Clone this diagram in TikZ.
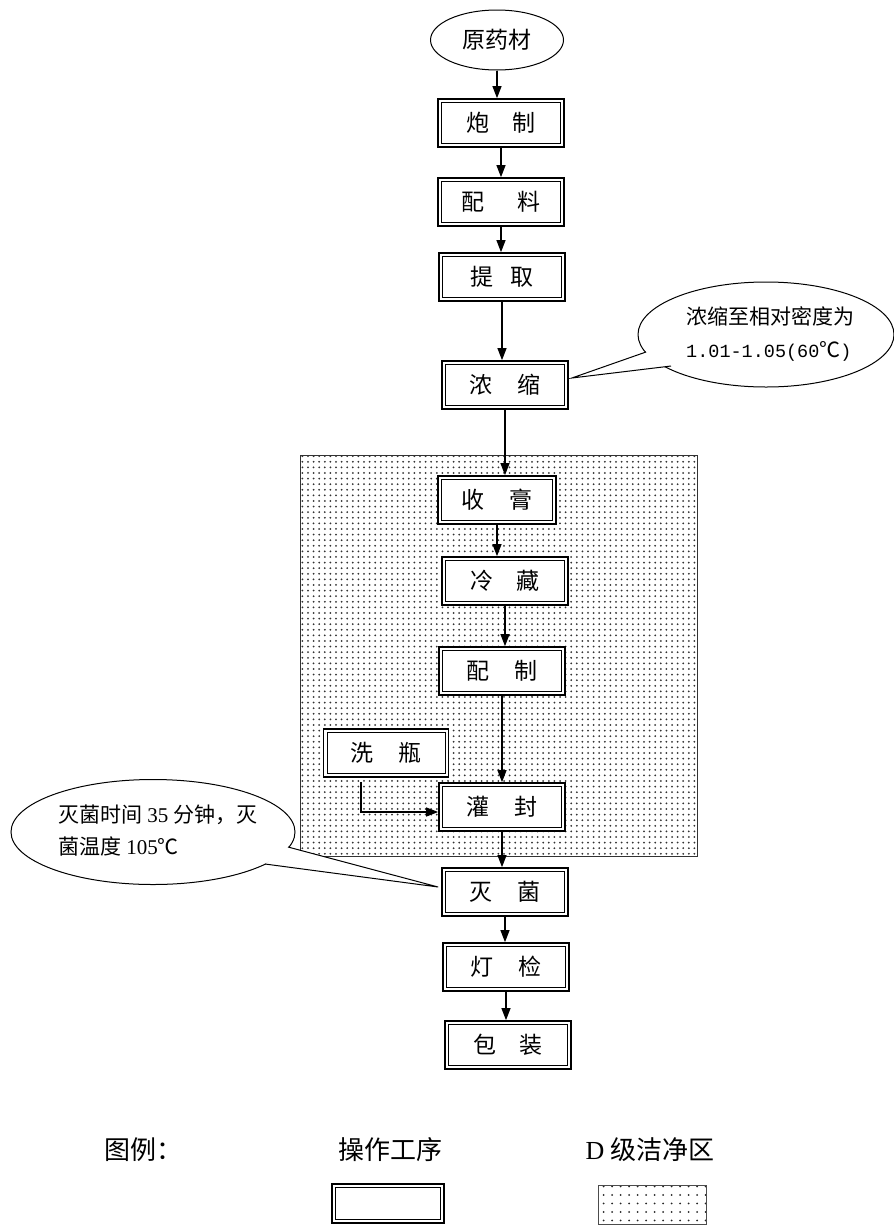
\documentclass[tikz,border=0pt]{standalone}
\usepackage{fontspec}
\setmainfont{Liberation Serif}
\newfontfamily\cjk{Noto Sans CJK SC}
\newfontfamily\monofnt{Liberation Mono}
\usetikzlibrary{arrows.meta,patterns.meta,shapes.geometric}
\tikzset{
  opbox/.style={draw, line width=1.7pt, fill=white, inner sep=0pt,
    minimum width=126pt, minimum height=48pt,
    font=\cjk\fontsize{23}{27}\selectfont,
    path picture={\draw[line width=0.8pt]
      ([shift={(3.6pt,3.6pt)}]path picture bounding box.south west) rectangle
      ([shift={(-3.6pt,-3.6pt)}]path picture bounding box.north east);}},
  arr/.style={line width=1.1pt, -{Triangle[length=12pt,width=9pt]}},
  bubble/.style={draw, fill=white, line width=1pt},
  dzone/.style={pattern={Dots[distance=5.6pt,radius=1pt]}, pattern color=black!80},
  legdots/.style={pattern={Dots[distance=8.5pt,radius=1pt]}, pattern color=black!85},
  zoneline/.style={line width=1pt, draw=black!80},
  bubtext/.style={align=left, anchor=west, inner sep=0pt},
  legtext/.style={inner sep=0pt, font=\cjk\fontsize{26}{30}\selectfont}
}
\begin{document}
\begin{tikzpicture}[x=1pt,y=-1pt]
\fill[white] (0,0) rectangle (894,1229);
\useasboundingbox (0,0) rectangle (894,1229);

% D-class clean zone
\path[dzone] (300,455) rectangle (697,856);
\draw[zoneline] (300,455) rectangle (697,856);

% process nodes
\node[ellipse, draw, line width=1pt, minimum width=133pt, minimum height=60pt, inner sep=0pt,
      font=\cjk\fontsize{23}{27}\selectfont] (yuan) at (497,40) {原药材};
\node[opbox] (paozhi) at (501,123) {炮\hspace{1em}制};
\node[opbox] (peiliao) at (501,202) {配\hspace{1.45em}料};
\node[opbox] (tiqu) at (502,277) {提\hspace{0.75em}取};
\node[opbox] (nongsuo) at (505,385) {浓\hspace{1.05em}缩};
\node[opbox, minimum width=118pt] (shougao) at (497,500) {收\hspace{1.1em}膏};
\node[opbox] (lengcang) at (505,581) {冷\hspace{1em}藏};
\node[opbox] (peizhi) at (502,671) {配\hspace{1.1em}制};
\node[opbox, minimum width=125pt] (xiping) at (386,753) {洗\hspace{1.05em}瓶};
\node[opbox] (guanfeng) at (502,807) {灌\hspace{1.1em}封};
\node[opbox] (miejun) at (505,892) {灭\hspace{1.1em}菌};
\node[opbox] (dengjian) at (506,967) {灯\hspace{1.1em}检};
\node[opbox] (baozhuang) at (508,1045) {包\hspace{1em}装};

% connectors
\draw[arr] (yuan.south) -- (yuan.south |- paozhi.north);
\draw[arr] (paozhi.south) -- (paozhi.south |- peiliao.north);
\draw[arr] (peiliao.south) -- (peiliao.south |- tiqu.north);
\draw[arr] (tiqu.south) -- (tiqu.south |- nongsuo.north);
\draw[arr] (nongsuo.south) -- (nongsuo.south |- shougao.north);
\draw[arr] (shougao.south) -- (shougao.south |- lengcang.north);
\draw[arr] (lengcang.south) -- (lengcang.south |- peizhi.north);
\draw[arr] (peizhi.south) -- (peizhi.south |- guanfeng.north);
\draw[arr] ([xshift=-25pt,yshift=-4pt]xiping.south) |- ([yshift=-5pt]guanfeng.west);
\draw[arr] (guanfeng.south) -- (guanfeng.south |- miejun.north);
\draw[arr] (miejun.south) -- (miejun.south |- dengjian.north);
\draw[arr] (dengjian.south) -- (dengjian.south |- baozhuang.north);

% callout 1
\path[bubble] (766,334.5) ellipse [x radius=128pt, y radius=52.5pt];
\path[bubble] (646,352) -- ([shift={(3pt,7pt)}]nongsuo.east) -- (671,366);
\node[bubtext, font=\cjk\fontsize{21}{33}\selectfont] (c1) at (686,334)
  {浓缩至相对密度为\\{\monofnt\fontsize{18.5}{33}\selectfont 1.01-1.05(60}℃{\monofnt\fontsize{18.5}{33}\selectfont )}};

% callout 2
\path[bubble] (153,832) ellipse [x radius=142pt, y radius=52.5pt];
\path[bubble] (288,847) -- ([shift={(-3pt,5pt)}]miejun.west) -- (265,864);
\node[bubtext, font=\fontsize{21}{32}\selectfont] (c2) at (58,831)
  {{\cjk 灭菌时间} 35 {\cjk 分钟，灭}\\{\cjk 菌温度} 105{\cjk ℃}};

% legend
\node[legtext, anchor=west] (legt) at (104,1150) {图例：};
\node[legtext] (legop) at (390,1150) {操作工序};
\node[legtext] (legd) at (650,1150) {{\rmfamily D} 级洁净区};
\node[opbox, minimum width=112pt, minimum height=39pt] (legbox) at (388,1203.5) {};
\path[legdots] (598,1185) rectangle (706,1224);
\draw[line width=0.7pt, draw=black!70] (598,1185) rectangle (706,1224);
\end{tikzpicture}
\end{document}
